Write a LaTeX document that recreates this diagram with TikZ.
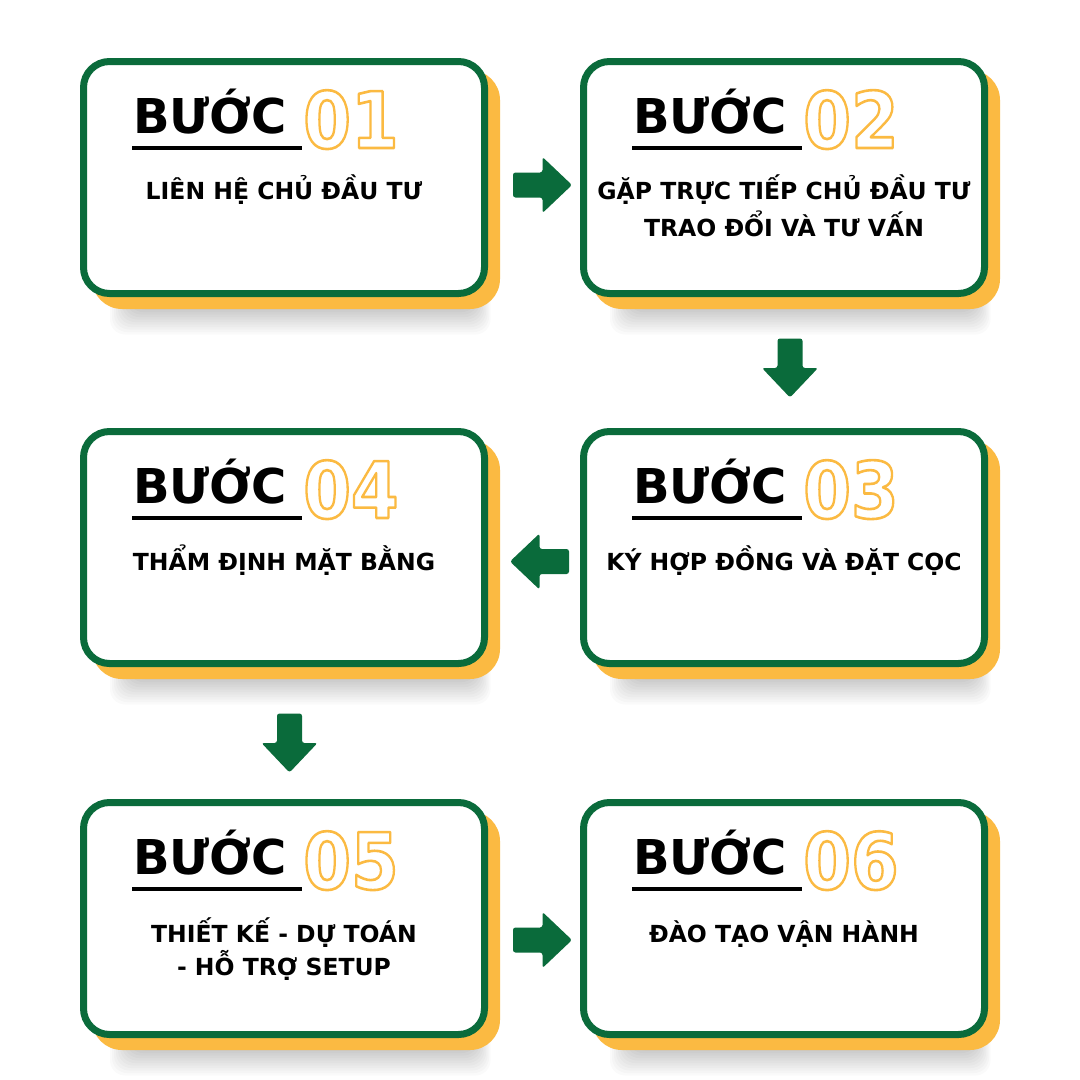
\documentclass[tikz,border=0pt]{standalone}
\usepackage{fontspec}
\setmainfont{DejaVu Sans}
\usetikzlibrary{backgrounds,calc}
\definecolor{grn}{HTML}{0A6B3B}
\definecolor{yel}{HTML}{FBBA42}
\newcommand\outlinedtext[1]{\special{pdf:literal direct q 1 Tr 2.6 w 1 j 0.984 0.729 0.259 RG}#1\special{pdf:literal direct Q}}
\tikzset{
  box/.style={draw=grn, line width=7pt, fill=white, rounded corners=26pt,
    minimum width=401pt, minimum height=232pt, inner sep=0pt},
  steplabel/.style={anchor=base west, inner sep=0pt, font=\fontsize{48}{48}\selectfont\bfseries},
  stepnum/.style={anchor=base west, inner sep=0pt, font=\fontsize{78}{78}\selectfont\bfseries},
  bodytext/.style={anchor=base, inner sep=0pt, font=\fontsize{23.5}{23.5}\selectfont\bfseries},
  bigarrow/.pic={\fill[grn, rounded corners=2.5pt] (-29.5,-12.5) -- (0,-12.5) -- (0,-28) -- (29.5,0) -- (0,28) -- (0,12.5) -- (-29.5,12.5) -- cycle;}
}
\newcommand\mkstep[3]{%
  \node[box] (#1) at (#2) {};
  \node[steplabel] (#1l) at ($(#1.north west)+(53,75)$) {BƯỚC};
  \draw[line width=3.5pt] ($(#1.north west)+(52,90)$) -- ($(#1.north west)+(222,90)$);
  \node[stepnum] (#1n) at ($(#1.north west)+(223,90)$) {\scalebox{0.88}[1]{\outlinedtext{#3}}};
  \begin{scope}[on background layer]
    \foreach \i in {0,...,11}
      \fill[black, opacity=0.02, rounded corners=15pt]
        ($(#1.south west)+({52-2*\i},-30)$) rectangle ($(#1.south east)+({-14+1.5*\i},{10+2.5*\i})$);
    \fill[yel, rounded corners=30pt] ($(#1.north west)+(12,12)$) rectangle ($(#1.south east)+(12,12)$);
  \end{scope}
}
\begin{document}
\begin{tikzpicture}[x=1pt,y=-1pt]
  \useasboundingbox (0,0) rectangle (1080,1080);
  \begin{scope}[on background layer]
    \fill[white] (0,0) rectangle (1080,1080);
  \end{scope}
  \mkstep{b1}{284,177.5}{01}
  \mkstep{b2}{784,177.5}{02}
  \mkstep{b3}{784,547.5}{03}
  \mkstep{b4}{284,547.5}{04}
  \mkstep{b5}{284,918.5}{05}
  \mkstep{b6}{784,918.5}{06}

  \node[bodytext] (t1) at ($(b1.north)+(0,141)$) {LIÊN HỆ CHỦ ĐẦU TƯ};
  \node[bodytext] (t2a) at ($(b2.north)+(0,141)$) {GẶP TRỰC TIẾP CHỦ ĐẦU TƯ};
  \node[bodytext] (t2b) at ($(b2.north)+(0,178)$) {TRAO ĐỔI VÀ TƯ VẤN};
  \node[bodytext] (t3) at ($(b3.north)+(0,142)$) {KÝ HỢP ĐỒNG VÀ ĐẶT CỌC};
  \node[bodytext] (t4) at ($(b4.north)+(0,142)$) {THẨM ĐỊNH MẶT BẰNG};
  \node[bodytext] (t5a) at ($(b5.north)+(0,143)$) {THIẾT KẾ - DỰ TOÁN};
  \node[bodytext] (t5b) at ($(b5.north)+(0,176)$) {- HỖ TRỢ SETUP};
  \node[bodytext] (t6) at ($(b6.north)+(0,143)$) {ĐÀO TẠO VẬN HÀNH};

  \pic (a1) at ($(b1.east)+(54.5,7.5)$) {bigarrow};
  \pic (a2) [rotate=-90] at ($(b2.south)+(6,71)$) {bigarrow};
  \pic (a3) [rotate=180] at ($(b3.west)+(-40.5,14)$) {bigarrow};
  \pic (a4) [rotate=-90] at ($(b4.south)+(5.5,76)$) {bigarrow};
  \pic (a5) at ($(b5.east)+(54.5,21.5)$) {bigarrow};
\end{tikzpicture}
\end{document}
